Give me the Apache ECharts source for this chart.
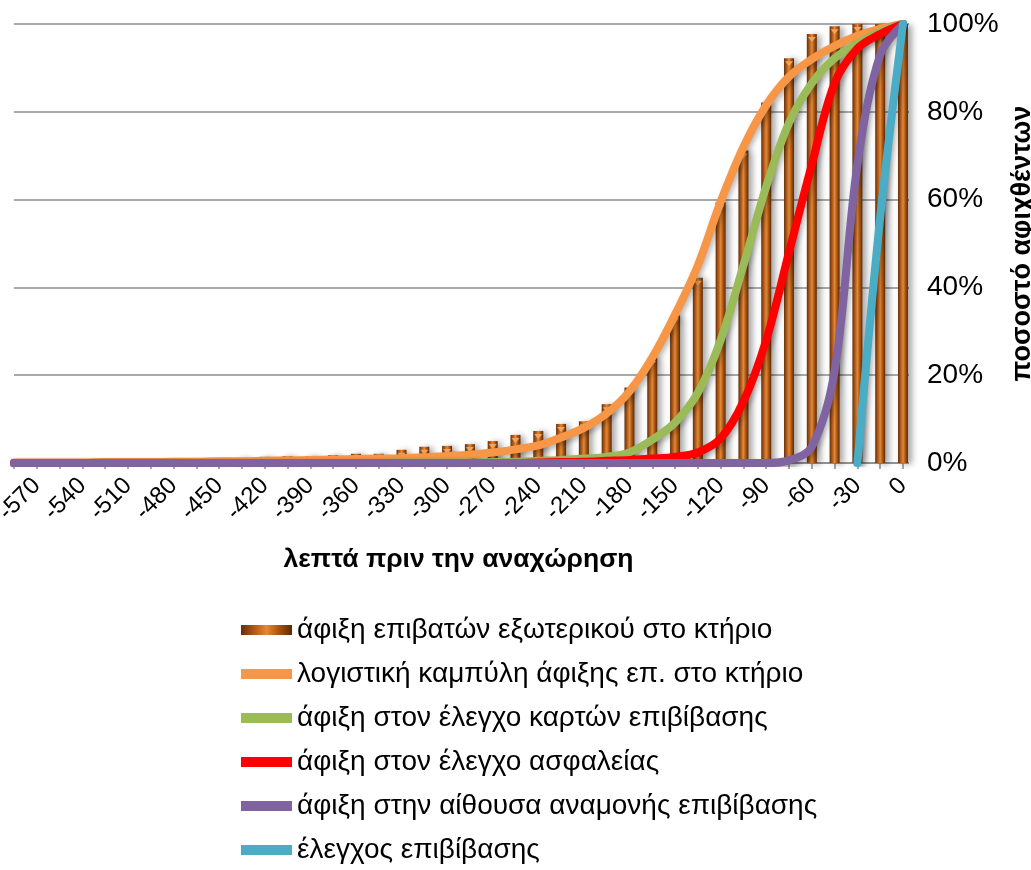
<!DOCTYPE html>
<html>
<head>
<meta charset="utf-8">
<script src="https://cdn.jsdelivr.net/npm/echarts@6/dist/echarts.min.js"></script>
<style>
  html, body { margin: 0; padding: 0; background: #ffffff; }
  #chart { width: 1031px; height: 870px; }
</style>
</head>
<body>
<div id="chart"></div>
<script>
// Minutes before departure (15-minute steps)
const minutes = [-585, -570, -555, -540, -525, -510, -495, -480, -465, -450,
                 -435, -420, -405, -390, -375, -360, -345, -330, -315, -300,
                 -285, -270, -255, -240, -225, -210, -195, -180, -165, -150,
                 -135, -120, -105, -90, -75, -60, -45, -30, -15, 0];

// Cumulative share (%) of international passengers arrived at the terminal
const terminalArrivals = [0, 0, 0, 0, 0, 0, 0, 0.1, 0.2, 0.4,
                          1.1, 1.4, 1.6, 1.6, 1.8, 2.1, 2.1, 3.0, 3.7, 3.9,
                          4.3, 5.0, 6.4, 7.3, 8.9, 9.5, 13.4, 17.2, 23.9, 33.6,
                          42.2, 59.4, 71.2, 82.1, 92.2, 97.7, 99.5, 100, 100, 100];

// Logistic arrival curve at the terminal
const logisticCurve = [0.1, 0.1, 0.1, 0.1, 0.2, 0.2, 0.2, 0.3, 0.3, 0.4,
                       0.4, 0.5, 0.6, 0.7, 0.8, 0.9, 1.0, 1.1, 1.3, 1.6,
                       1.9, 2.4, 3.1, 4.0, 5.8, 8.0, 11.3, 16.3, 24.0, 33.8,
                       45.0, 59.5, 72.0, 81.5, 88.0, 92.0, 95.0, 97.3, 98.9, 100];

// Arrival at boarding-pass check
const boardingPassCheck = [0, 0, 0, 0, 0, 0, 0, 0, 0, 0,
                           0, 0, 0, 0, 0, 0, 0, 0.1, 0.1, 0.1,
                           0.1, 0.2, 0.3, 0.5, 0.7, 1.0, 1.4, 2.4, 5.3, 9.2,
                           16.0, 28.0, 45.0, 63.0, 77.5, 86.5, 92.2, 95.5, 98.2, 100];

// Arrival at security check
const securityCheck = [0, 0, 0, 0, 0, 0, 0, 0, 0, 0,
                       0, 0, 0, 0, 0, 0, 0, 0, 0, 0,
                       0, 0, 0, 0.1, 0.2, 0.3, 0.5, 0.7, 1.0, 1.4,
                       2.4, 5.6, 14.0, 28.0, 48.0, 68.0, 86.5, 94.4, 97.7, 100];

// Arrival at the boarding lounge
const boardingLounge = [0, 0, 0, 0, 0, 0, 0, 0, 0, 0,
                        0, 0, 0, 0, 0, 0, 0, 0, 0, 0,
                        0, 0, 0, 0, 0, 0, 0, 0, 0, 0,
                        0, 0, 0, 0, 0.6, 3.7, 21.0, 68.0, 93.0, 100];

// Boarding control
const boardingControl = [null, null, null, null, null, null, null, null, null, null,
                         null, null, null, null, null, null, null, null, null, null,
                         null, null, null, null, null, null, null, null, null, null,
                         null, null, null, null, null, null, null, 0, 56, 100];

const seriesNames = [
  'άφιξη επιβατών εξωτερικού στο κτήριο',
  'λογιστική καμπύλη άφιξης επ. στο κτήριο',
  'άφιξη στον έλεγχο καρτών επιβίβασης',
  'άφιξη στον έλεγχο ασφαλείας',
  'άφιξη στην αίθουσα αναμονής επιβίβασης',
  'έλεγχος επιβίβασης'
];

const FONT = 'Arial, "Liberation Sans", sans-serif';

const barGradient = new echarts.graphic.LinearGradient(0, 0, 1, 0, [
  { offset: 0, color: '#62300a' },
  { offset: 0.3, color: '#bb601d' },
  { offset: 0.5, color: '#e08a3a' },
  { offset: 0.72, color: '#b05813' },
  { offset: 1, color: '#5a2a05' }
]);

function lineSeries(name, data, color) {
  return {
    name: name,
    type: 'line',
    data: data,
    smooth: 0.35,
    showSymbol: false,
    symbol: 'none',
    connectNulls: false,
    lineStyle: {
      color: color,
      width: 8,
      cap: 'round',
      join: 'round',
      shadowColor: 'rgba(0,0,0,0.28)',
      shadowBlur: 5,
      shadowOffsetX: 2,
      shadowOffsetY: 3
    },
    itemStyle: { color: color },
    emphasis: { disabled: true },
    z: 3
  };
}

const chart = echarts.init(document.getElementById('chart'), null, { renderer: 'canvas' });

chart.setOption({
  animation: false,
  backgroundColor: '#ffffff',
  textStyle: { fontFamily: FONT },
  grid: {
    left: 14, right: 128, top: 24, bottom: 407,
    containLabel: false,
    outerBoundsMode: 'none'
  },
  legend: {
    data: seriesNames,
    orient: 'vertical',
    left: 241,
    top: 616,
    height: 320,
    padding: 0,
    itemWidth: 51,
    itemHeight: 10,
    itemGap: 16,
    icon: 'rect',
    textStyle: { fontFamily: FONT, fontSize: 28, color: '#000000', lineHeight: 24 }
  },
  xAxis: {
    type: 'category',
    data: minutes,
    boundaryGap: false,
    name: 'λεπτά πριν την αναχώρηση',
    nameLocation: 'middle',
    nameGap: 83,
    nameTextStyle: { fontFamily: FONT, fontSize: 26.5, fontWeight: 'bold', color: '#000000' },
    axisLine: { show: true, lineStyle: { color: '#8c8c8c', width: 1.5 } },
    axisTick: { show: true, interval: 0, length: 6, lineStyle: { color: '#8c8c8c', width: 1.5 } },
    axisLabel: {
      interval: function (idx) { return idx % 2 === 1; },
      rotate: 45,
      margin: 19,
      fontFamily: FONT,
      fontSize: 24,
      color: '#000000'
    },
    splitLine: { show: false }
  },
  yAxis: {
    type: 'value',
    position: 'right',
    min: 0,
    max: 100,
    interval: 20,
    name: 'ποσοστό αφιχθέντων',
    nameLocation: 'middle',
    nameRotate: 90,
    nameGap: 95,
    nameTextStyle: { fontFamily: FONT, fontSize: 27, fontWeight: 'bold', color: '#000000' },
    axisLine: { show: true, lineStyle: { color: '#8c8c8c', width: 1.5 } },
    axisTick: { show: true, length: 6, lineStyle: { color: '#8c8c8c', width: 1.5 } },
    axisLabel: {
      formatter: '{value}%',
      margin: 24,
      fontFamily: FONT,
      fontSize: 28,
      color: '#000000'
    },
    splitLine: { show: true, lineStyle: { color: '#8c8c8c', width: 1.5 } }
  },
  series: [
    {
      name: seriesNames[0],
      type: 'bar',
      data: terminalArrivals,
      barWidth: 10,
      clip: true,
      itemStyle: {
        color: barGradient,
        shadowColor: 'rgba(0,0,0,0.35)',
        shadowBlur: 6,
        shadowOffsetX: 4,
        shadowOffsetY: 1
      },
      emphasis: { disabled: true },
      z: 1
    },
    {
      // lighter cap on the top of each column
      name: 'cap',
      type: 'pictorialBar',
      data: terminalArrivals.map(function (v) { return v > 0.5 ? v : '-'; }),
      symbol: 'path://M0,0L10,0L5,6Z',
      symbolSize: [8, 5],
      symbolPosition: 'end',
      symbolOffset: [0, '60%'],
      itemStyle: { color: '#f3a35a' },
      emphasis: { disabled: true },
      z: 2
    },
    lineSeries(seriesNames[1], logisticCurve, '#F79646'),
    lineSeries(seriesNames[2], boardingPassCheck, '#9BBB59'),
    lineSeries(seriesNames[3], securityCheck, '#FF0000'),
    lineSeries(seriesNames[4], boardingLounge, '#8064A2'),
    lineSeries(seriesNames[5], boardingControl, '#4BACC6')
  ]
});
</script>
</body>
</html>
